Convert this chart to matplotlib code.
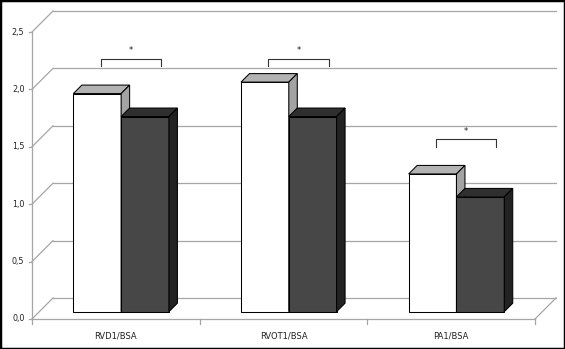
import matplotlib
matplotlib.use("Agg")
import matplotlib.pyplot as plt
from matplotlib.patches import Polygon, Rectangle

# ---- data ----
categories = ['RVD1/BSA', 'RVOT1/BSA', 'PA1/BSA']
group_a = [1.9, 2.0, 1.2]          # white bars
group_b = [1.7, 1.7, 1.0]          # dark bars
yticks = [0.0, 0.5, 1.0, 1.5, 2.0, 2.5]
ytick_labels = ['0,0', '0,5', '1,0', '1,5', '2,0', '2,5']
sig_levels = [2.2, 2.2, 1.5]       # bracket heights
sig_marks = ['*', '*', '*']

# ---- geometry (data units) ----
PXX, PXY = 503 / 3.0, 287 / 2.5           # pixels per category / per value unit
WDX, WDY = 21 / PXX, 21 / PXY             # wall depth
BDX, BDY = 7.3 / PXX, 7.3 / PXY           # bar plane offset
DDX, DDY = 8.5 / PXX, 8.5 / PXY           # bar depth
BAR_W = 0.285
BAR_SHIFT = -0.012

GRID = '#a6a6a6'

fig = plt.figure(figsize=(5.65, 3.49), dpi=100)
ax = fig.add_axes([32 / 565, 30 / 349, 503 / 565, 287 / 349])
ax.set_xlim(-0.5, 2.5)
ax.set_ylim(0, 2.5)
ax.axis('off')

x0, x1 = -0.5, len(categories) - 0.5

# walls and grid
for v, lab in zip(yticks, ytick_labels):
    ax.plot([x0, x0 + WDX], [v, v + WDY], color=GRID, lw=0.9, clip_on=False, zorder=1)
    ax.plot([x0 + WDX, x1 + WDX], [v + WDY, v + WDY], color=GRID, lw=0.9, clip_on=False, zorder=1)
    ax.plot([x0 - 0.02, x0], [v, v], color=GRID, lw=0.9, clip_on=False, zorder=1)
    ax.text(x0 - 0.045, v, lab, ha='right', va='center', fontsize=5.8, color='#222222')
ax.plot([x0, x0], [0, yticks[-1]], color=GRID, lw=0.9, clip_on=False, zorder=1)
ax.plot([x0, x1], [0, 0], color=GRID, lw=0.9, clip_on=False, zorder=1)
ax.plot([x1, x1 + WDX], [0, WDY], color=GRID, lw=0.9, clip_on=False, zorder=1)
for i in range(len(categories) + 1):
    ax.plot([x0 + i, x0 + i], [0, -0.04], color=GRID, lw=0.9, clip_on=False, zorder=1)

for i, c in enumerate(categories):
    ax.text(i, -0.15, c, ha='center', va='center', fontsize=6, color='#222222')


def draw_bar(left, h, front, top, side, z):
    bx, by = left + BDX, BDY
    ax.bar(bx, h, width=BAR_W, bottom=by, align='edge', color=front,
           edgecolor='black', lw=0.75, zorder=z, clip_on=False)
    ax.add_patch(Polygon([(bx, by + h), (bx + BAR_W, by + h),
                          (bx + BAR_W + DDX, by + h + DDY), (bx + DDX, by + h + DDY)],
                         closed=True, facecolor=top, edgecolor='black', lw=0.75,
                         zorder=z, clip_on=False))
    ax.add_patch(Polygon([(bx + BAR_W, by), (bx + BAR_W + DDX, by + DDY),
                          (bx + BAR_W + DDX, by + h + DDY), (bx + BAR_W, by + h)],
                         closed=True, facecolor=side, edgecolor='black', lw=0.75,
                         zorder=z, clip_on=False))


for i in range(len(categories)):
    c = i + BAR_SHIFT
    draw_bar(c - BAR_W, group_a[i], 'white', '#b3b3b3', '#a3a3a3', 3 + 2 * i)
    draw_bar(c, group_b[i], '#474747', '#2f2f2f', '#222222', 4 + 2 * i)

# significance brackets
for i, (lvl, m) in enumerate(zip(sig_levels, sig_marks)):
    bl, br = i - 0.09, i + 0.27
    bh = 0.065
    ax.plot([bl, bl, br, br], [lvl, lvl + bh, lvl + bh, lvl], color='#333333',
            lw=0.8, clip_on=False, zorder=10)
    ax.text((bl + br) / 2, lvl + bh + 0.07, m, ha='center', va='center',
            fontsize=6, color='#222222', zorder=10)

fig.patches.append(Rectangle((0, 0), 1, 1, transform=fig.transFigure, fill=False,
                             edgecolor='black', lw=2.5))

fig.savefig('out.png', dpi=100)
